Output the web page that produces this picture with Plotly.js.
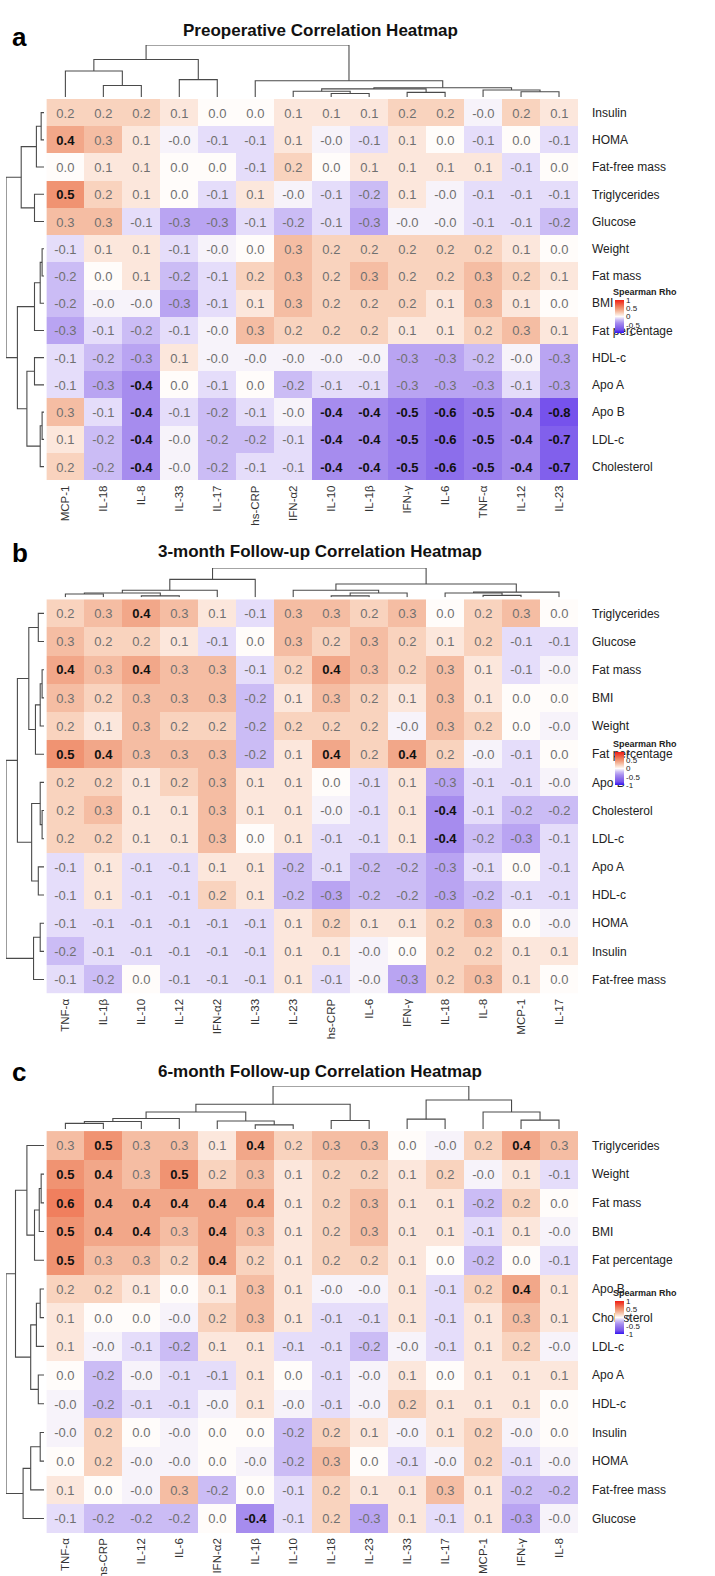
<!DOCTYPE html>
<html>
<head>
<meta charset="utf-8">
<script src="https://cdn.plot.ly/plotly-3.0.1.min.js"></script>
<style>
  html, body { margin: 0; padding: 0; background: #fff; }
  #chart { width: 715px; height: 1576px; }
</style>
</head>
<body>
<div id="chart"></div>
<script>
// ---------------- DATA ----------------
// Panel a: Preoperative
const colsA = ["MCP-1","IL-18","IL-8","IL-33","IL-17","hs-CRP","IFN-α2","IL-10","IL-1β","IFN-γ","IL-6","TNF-α","IL-12","IL-23"];
const rowsA = ["Insulin","HOMA","Fat-free mass","Triglycerides","Glucose","Weight","Fat mass","BMI","Fat percentage","HDL-c","Apo A","Apo B","LDL-c","Cholesterol"];
const rhoA = [
  [ 0.2, 0.2, 0.2, 0.1, 0.0, 0.0, 0.1, 0.1, 0.1, 0.2, 0.2,-0.03, 0.2, 0.1],
  [ 0.4, 0.3, 0.1,-0.03,-0.1,-0.1, 0.1,-0.03,-0.1, 0.1, 0.0,-0.1, 0.0,-0.1],
  [ 0.0, 0.1, 0.1, 0.0, 0.0,-0.1, 0.2, 0.0, 0.1, 0.1, 0.1, 0.1,-0.1, 0.0],
  [ 0.5, 0.2, 0.1, 0.0,-0.1, 0.1,-0.03,-0.1,-0.2, 0.1,-0.03,-0.1,-0.1,-0.1],
  [ 0.3, 0.3,-0.1,-0.3,-0.3,-0.1,-0.2,-0.1,-0.3,-0.03,-0.03,-0.1,-0.1,-0.2],
  [-0.1, 0.1, 0.1,-0.1,-0.03, 0.0, 0.3, 0.2, 0.2, 0.2, 0.2, 0.2, 0.1, 0.0],
  [-0.2, 0.0, 0.1,-0.2,-0.1, 0.2, 0.3, 0.2, 0.3, 0.2, 0.2, 0.3, 0.2, 0.1],
  [-0.2,-0.03,-0.03,-0.3,-0.1, 0.1, 0.3, 0.2, 0.2, 0.2, 0.1, 0.3, 0.1, 0.0],
  [-0.3,-0.1,-0.2,-0.1,-0.03, 0.3, 0.2, 0.2, 0.2, 0.1, 0.1, 0.2, 0.3, 0.1],
  [-0.1,-0.2,-0.3, 0.1,-0.03,-0.03,-0.03,-0.03,-0.03,-0.3,-0.3,-0.2,-0.03,-0.3],
  [-0.1,-0.3,-0.4, 0.0,-0.1, 0.0,-0.2,-0.1,-0.1,-0.3,-0.3,-0.3,-0.1,-0.3],
  [ 0.3,-0.1,-0.4,-0.1,-0.2,-0.1,-0.03,-0.4,-0.4,-0.5,-0.6,-0.5,-0.4,-0.8],
  [ 0.1,-0.2,-0.4,-0.03,-0.2,-0.2,-0.1,-0.4,-0.4,-0.5,-0.6,-0.5,-0.4,-0.7],
  [ 0.2,-0.2,-0.4,-0.03,-0.2,-0.1,-0.1,-0.4,-0.4,-0.5,-0.6,-0.5,-0.4,-0.7]
];
// linkage trees: [childA, childB, height]; leaves 0..n-1, merged nodes numbered n, n+1, ...
const colTreeA = [[1,2,20],[0,14,45],[3,4,30],[15,16,65],[7,8,6],[6,18,10],[9,10,8],[19,20,14],[12,13,9],[11,22,12],[21,23,16],[5,24,28],[17,25,90]];
const rowTreeA = [[0,1,3],[14,2,8],[3,4,10],[15,16,24],[5,6,2],[18,7,4],[19,8,10],[9,10,10],[11,12,2],[22,13,4],[21,23,18],[20,24,28],[17,25,40]];

// Panel b: 3-month follow-up
const colsB = ["TNF-α","IL-1β","IL-10","IL-12","IFN-α2","IL-33","IL-23","hs-CRP","IL-6","IFN-γ","IL-18","IL-8","MCP-1","IL-17"];
const rowsB = ["Triglycerides","Glucose","Fat mass","BMI","Weight","Fat percentage","Apo B","Cholesterol","LDL-c","Apo A","HDL-c","HOMA","Insulin","Fat-free mass"];
const rhoB = [
  [ 0.2, 0.3, 0.4, 0.3, 0.1,-0.1, 0.3, 0.3, 0.2, 0.3, 0.0, 0.2, 0.3, 0.0],
  [ 0.3, 0.2, 0.2, 0.1,-0.1, 0.0, 0.3, 0.2, 0.3, 0.2, 0.1, 0.2,-0.1,-0.1],
  [ 0.4, 0.3, 0.4, 0.3, 0.3,-0.1, 0.2, 0.4, 0.3, 0.2, 0.3, 0.1,-0.1,-0.03],
  [ 0.3, 0.2, 0.3, 0.3, 0.3,-0.2, 0.1, 0.3, 0.2, 0.1, 0.3, 0.1, 0.0, 0.0],
  [ 0.2, 0.1, 0.3, 0.2, 0.2,-0.2, 0.2, 0.2, 0.2,-0.03, 0.3, 0.2, 0.0,-0.03],
  [ 0.5, 0.4, 0.3, 0.3, 0.3,-0.2, 0.1, 0.4, 0.2, 0.4, 0.2,-0.03,-0.1, 0.0],
  [ 0.2, 0.2, 0.1, 0.2, 0.3, 0.1, 0.1, 0.0,-0.1, 0.1,-0.3,-0.1,-0.1,-0.03],
  [ 0.2, 0.3, 0.1, 0.1, 0.3, 0.1, 0.1,-0.03,-0.1, 0.1,-0.4,-0.1,-0.2,-0.2],
  [ 0.2, 0.2, 0.1, 0.1, 0.3, 0.0, 0.1,-0.1,-0.1, 0.1,-0.4,-0.2,-0.3,-0.1],
  [-0.1, 0.1,-0.1,-0.1, 0.1, 0.1,-0.2,-0.1,-0.2,-0.2,-0.3,-0.1, 0.0,-0.1],
  [-0.1, 0.1,-0.1,-0.1, 0.2, 0.1,-0.2,-0.3,-0.2,-0.2,-0.3,-0.2,-0.1,-0.1],
  [-0.1,-0.1,-0.1,-0.1,-0.1,-0.1, 0.1, 0.2, 0.1, 0.1, 0.2, 0.3, 0.0,-0.03],
  [-0.2,-0.1,-0.1,-0.1,-0.1,-0.1, 0.1, 0.1,-0.03, 0.0, 0.2, 0.2, 0.1, 0.1],
  [-0.1,-0.2, 0.0,-0.1,-0.1,-0.1, 0.1,-0.1,-0.03,-0.3, 0.2, 0.3, 0.1, 0.0]
];
const colTreeB = [[0,1,3.5],[2,3,1.5],[14,15,4.5],[16,4,7.5],[17,5,19],[7,8,1.5],[19,9,4.5],[6,20,7.5],[11,12,2],[10,22,4.5],[23,13,5.5],[21,24,14],[18,25,31]];
const rowTreeB = [[0,1,6],[2,3,2],[15,4,4],[16,5,9],[14,17,16],[7,8,2],[6,19,4],[9,10,6],[20,21,13],[18,22,28],[11,12,4],[24,13,11],[23,25,40]];

// Panel c: 6-month follow-up
const colsC = ["TNF-α","hs-CRP","IL-12","IL-6","IFN-α2","IL-1β","IL-10","IL-18","IL-23","IL-33","IL-17","MCP-1","IFN-γ","IL-8"];
const rowsC = ["Triglycerides","Weight","Fat mass","BMI","Fat percentage","Apo B","Cholesterol","LDL-c","Apo A","HDL-c","Insulin","HOMA","Fat-free mass","Glucose"];
const rhoC = [
  [ 0.3, 0.5, 0.3, 0.3, 0.1, 0.4, 0.2, 0.3, 0.3, 0.0,-0.03, 0.2, 0.4, 0.3],
  [ 0.5, 0.4, 0.3, 0.5, 0.2, 0.3, 0.1, 0.2, 0.2, 0.1, 0.2,-0.03, 0.1,-0.1],
  [ 0.6, 0.4, 0.4, 0.4, 0.4, 0.4, 0.1, 0.2, 0.3, 0.1, 0.1,-0.2, 0.2, 0.0],
  [ 0.5, 0.4, 0.4, 0.3, 0.4, 0.3, 0.1, 0.2, 0.3, 0.1, 0.1,-0.1, 0.1,-0.03],
  [ 0.5, 0.3, 0.3, 0.2, 0.4, 0.2, 0.1, 0.2, 0.2, 0.1, 0.0,-0.2, 0.0,-0.1],
  [ 0.2, 0.2, 0.1, 0.0, 0.1, 0.3, 0.1,-0.03,-0.03, 0.1,-0.1, 0.2, 0.4, 0.1],
  [ 0.1, 0.0, 0.0,-0.03, 0.2, 0.3, 0.1,-0.1,-0.1, 0.1,-0.1, 0.1, 0.3, 0.1],
  [ 0.1,-0.03,-0.1,-0.2, 0.1, 0.1,-0.1,-0.1,-0.2,-0.03,-0.1, 0.1, 0.2,-0.03],
  [ 0.0,-0.2,-0.03,-0.1,-0.1, 0.1, 0.0,-0.1,-0.03, 0.1, 0.0, 0.1, 0.1, 0.1],
  [-0.03,-0.2,-0.1,-0.1,-0.03, 0.1,-0.03,-0.1,-0.03, 0.2, 0.1, 0.1, 0.1, 0.0],
  [-0.03, 0.2, 0.0,-0.03, 0.0, 0.0,-0.2, 0.2, 0.1,-0.03, 0.1, 0.2,-0.03, 0.0],
  [ 0.0, 0.2,-0.03,-0.03, 0.0,-0.03,-0.2, 0.3, 0.0,-0.1,-0.03, 0.2,-0.1,-0.03],
  [ 0.1, 0.0,-0.03, 0.3,-0.2, 0.0,-0.1, 0.2, 0.1, 0.1, 0.3, 0.1,-0.2,-0.2],
  [-0.1,-0.2,-0.2,-0.2, 0.0,-0.4,-0.1, 0.2,-0.3, 0.1,-0.1, 0.1,-0.3,-0.03]
];
const colTreeC = [[0,1,6],[14,2,8],[15,3,11],[5,6,4.4],[4,17,8.4],[16,18,17.8],[7,8,9],[19,20,26],[9,10,10.4],[12,13,9.4],[11,23,17.8],[22,24,30.4],[21,25,45]];
const rowTreeC = [[1,2,3],[14,3,5],[15,4,10],[0,16,18],[5,6,4],[18,7,8],[8,9,6],[19,20,14],[17,21,30],[10,11,4],[23,12,14],[24,13,22],[22,25,40]];

// ---------------- DRAWING ----------------
const W = 715, H = 1576;
const px = v => v / W;
const py = v => 1 - v / H;

const colorscale = [
  [0.00, 'rgb(50,20,240)'],
  [0.10, 'rgb(118,82,236)'],
  [0.20, 'rgb(140,110,235)'],
  [0.30, 'rgb(166,140,238)'],
  [0.40, 'rgb(203,188,245)'],
  [0.45, 'rgb(229,221,250)'],
  [0.50, 'rgb(255,252,250)'],
  [0.55, 'rgb(252,231,220)'],
  [0.60, 'rgb(249,211,190)'],
  [0.65, 'rgb(245,189,163)'],
  [0.70, 'rgb(242,167,137)'],
  [0.75, 'rgb(240,147,114)'],
  [0.80, 'rgb(240,127,94)'],
  [1.00, 'rgb(240,30,20)']
];

function cellText(m) {
  return m.map(r => r.map(v => {
    const s = v.toFixed(1);
    return Math.abs(v) >= 0.35 ? '<b><span style="color:#111">' + s + '</span></b>' : s;
  }));
}

function dendro(tree, n) {
  const pos = [], hgt = [];
  for (let i = 0; i < n; i++) { pos.push(i); hgt.push(0); }
  const a = [], b = [];
  tree.forEach(([c1, c2, h]) => {
    a.push(pos[c1], pos[c1], pos[c2], pos[c2], null);
    b.push(hgt[c1], h, h, hgt[c2], null);
    pos.push((pos[c1] + pos[c2]) / 2);
    hgt.push(h);
  });
  const maxH = Math.max(...tree.map(t => t[2]));
  return {pos: a, h: b, maxH};
}

const panels = [
  {cols: colsA, rows: rowsA, z: rhoA, ct: colTreeA, rt: rowTreeA, top: 99.0, bot: 480.2, dTop: 45, title: 'Preoperative Correlation Heatmap', letter: 'a', titleY: 30, letterY: 37, cbY: 300},
  {cols: colsB, rows: rowsB, z: rhoB, ct: colTreeB, rt: rowTreeB, top: 599.3, bot: 993.6, dTop: 568, title: '3-month Follow-up Correlation Heatmap', letter: 'b', titleY: 551, letterY: 553, cbY: 752},
  {cols: colsC, rows: rowsC, z: rhoC, ct: colTreeC, rt: rowTreeC, top: 1131.1, bot: 1532.9, dTop: 1086, title: '6-month Follow-up Correlation Heatmap', letter: 'c', titleY: 1071, letterY: 1072, cbY: 1301}
];

const heatL = 46.4, heatR = 578, dendL = 6, dendR = 44;
const data = [];
const layout = {
  width: W, height: H,
  margin: {l: 0, r: 0, t: 0, b: 0},
  paper_bgcolor: '#fff', plot_bgcolor: '#fff',
  font: {family: 'Liberation Sans, Arial, sans-serif', color: '#222'},
  showlegend: false,
  annotations: []
};

panels.forEach((p, i) => {
  const k = i + 1;
  const hx = k === 1 ? 'x' : 'x' + k;
  const hy = k === 1 ? 'y' : 'y' + k;
  const dyName = 'y' + (k + 3), dxName = 'x' + (k + 3);
  const n = p.cols.length, m = p.rows.length;
  const idxC = p.cols.map((_, j) => j), idxR = p.rows.map((_, j) => j);

  data.push({
    type: 'heatmap', xaxis: hx, yaxis: hy,
    z: p.z, x: idxC, y: idxR,
    text: cellText(p.z), texttemplate: '%{text}',
    textfont: {size: 13, color: '#707070', family: 'Liberation Sans, Arial, sans-serif'},
    colorscale: colorscale, zmin: -1, zmax: 1, hoverinfo: 'skip',
    colorbar: {
      x: px(615), xanchor: 'left', y: py(p.cbY), yanchor: 'top',
      len: 33, lenmode: 'pixels', thickness: 9, thicknessmode: 'pixels',
      tickvals: [-1, -0.5, 0, 0.5, 1], ticktext: ['-1', '-0.5', '0', '0.5', '1'],
      tickfont: {size: 8, color: '#222'}, ticks: '', outlinewidth: 0, xpad: 0, ypad: 0
    }
  });

  const cd = dendro(p.ct, n);
  data.push({type: 'scatter', mode: 'lines', xaxis: hx, yaxis: dyName, x: cd.pos, y: cd.h,
    line: {color: '#4a4a4a', width: 1.1}, hoverinfo: 'skip', connectgaps: false});
  const rd = dendro(p.rt, m);
  data.push({type: 'scatter', mode: 'lines', xaxis: dxName, yaxis: hy, x: rd.h, y: rd.pos,
    line: {color: '#4a4a4a', width: 1.1}, hoverinfo: 'skip', connectgaps: false});

  const axKey = s => s.replace('x', 'xaxis').replace('y', 'yaxis');
  layout[axKey(hx)] = {
    domain: [px(heatL), px(heatR)], anchor: hy, range: [-0.5, n - 0.5],
    tickmode: 'array', tickvals: idxC, ticktext: p.cols, tickangle: -90,
    tickfont: {size: 11.5, color: '#333'}, showgrid: false, zeroline: false, showline: false, ticks: '', ticklen: 0,
    ticklabelstandoff: 2
  };
  layout[axKey(hy)] = {
    domain: [py(p.bot), py(p.top)], anchor: hx, range: [m - 0.5, -0.5], side: 'right',
    tickmode: 'array', tickvals: idxR, ticktext: p.rows,
    tickfont: {size: 12, color: '#222'}, showgrid: false, zeroline: false, showline: false, ticks: '', ticklen: 0,
    ticklabelstandoff: 13
  };
  layout[axKey(dyName)] = {
    domain: [py(p.top - 2), py(p.dTop)], anchor: hx, range: [0, cd.maxH], visible: false, fixedrange: true
  };
  layout[axKey(dxName)] = {
    domain: [px(dendL), px(dendR)], anchor: hy, range: [rd.maxH, 0], visible: false, fixedrange: true
  };

  layout.annotations.push({
    xref: 'paper', yref: 'paper', x: px(320), y: py(p.titleY), xanchor: 'center', yanchor: 'middle',
    text: '<b>' + p.title + '</b>', showarrow: false, font: {size: 17, color: '#111'}
  });
  layout.annotations.push({
    xref: 'paper', yref: 'paper', x: px(10), y: py(p.letterY), xanchor: 'left', yanchor: 'middle',
    text: '<b>' + p.letter + '</b>', showarrow: false, font: {size: 26, color: '#000'}
  });
  layout.annotations.push({
    xref: 'paper', yref: 'paper', x: px(611), y: py(p.cbY - 1), xanchor: 'left', yanchor: 'bottom',
    text: '<b>Spearman Rho</b>', showarrow: false, font: {size: 9, color: '#222'}
  });
});

Plotly.newPlot('chart', data, layout, {staticPlot: true, displayModeBar: false});
</script>
</body>
</html>
